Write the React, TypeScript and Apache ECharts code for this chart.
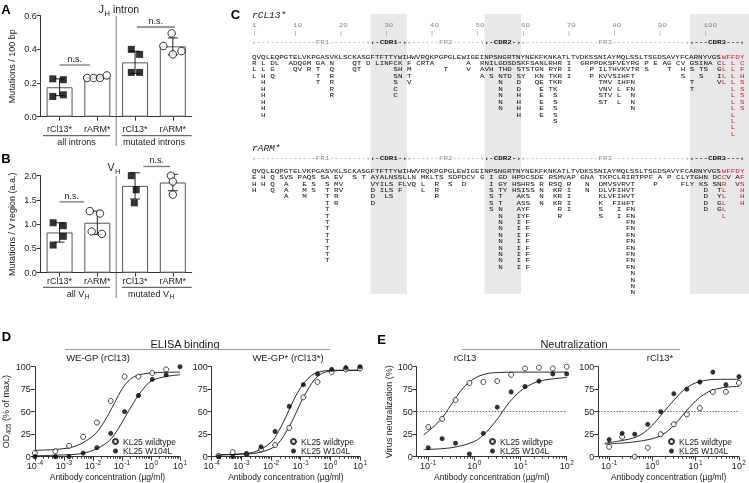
import React, { useEffect, useRef } from 'react';
import * as echarts from 'echarts';

const SANS = '"Liberation Sans", Arial, sans-serif';
const MONO = '"Liberation Mono", "DejaVu Sans Mono", monospace';
const INK = '#1a1a1a';
const SEQ = '#0d0d0d';
const AX = '#333';
const RED = '#d3202b';

// ---------------- Panel A (J_H intron) ----------------
const catLabels = ['rCl13*', 'rARM*', 'rCl13*', 'rARM*'];
const aMeans = [0.175, 0.233, 0.323, 0.418];
const aSD = [0.05, 0.008, 0.066, 0.05];
const aCl13All = [0.225, 0.22, 0.12, 0.13];
const aArmAll = [0.23, 0.23, 0.23, 0.245];
const aCl13Mut = [0.4, 0.37, 0.263, 0.263];
const aArmMut = [0.495, 0.42, 0.39, 0.37];
const jitACl13All = [-0.18, 0.1, -0.18, 0.1];
const jitAArmAll = [-0.27, -0.1, 0.07, 0.25];
const jitACl13Mut = [-0.1, 0.12, -0.1, 0.12];
const jitAArmMut = [-0.03, -0.25, 0.23, 0.0];
const aNs = [[0.0, 0.8, 0.307], [2.05, 3.05, 0.533]];

// ---------------- Panel B (V_H) ----------------
const bMeans = [0.83, 1.03, 1.79, 1.86];
const bSD = [0.2, 0.24, 0.27, 0.17];
const bCl13All = [1.03, 0.97, 0.75, 0.57];
const bArmAll = [1.27, 1.22, 0.85, 0.8];
const bCl13Mut = [2.0, 2.03, 1.71, 1.44];
const bArmMut = [2.0, 2.02, 1.88, 1.61];
const jitBCl13All = [-0.17, 0.1, 0.1, -0.17];
const jitBArmAll = [-0.2, 0.07, -0.15, 0.12];
const jitBCl13Mut = [-0.1, 0.12, 0.03, -0.02];
const jitBArmMut = [-0.05, 0.24, 0.0, 0.0];
const bNs = [[0.0, 0.65, 1.46], [2.22, 2.93, 2.19]];

// ---------------- Panel C (alignment) ----------------
const rulerMarks = [1, 10, 20, 30, 40, 50, 60, 70, 80, 90, 100];
const germline = 'QVQLEQPGTELVKPGASVKLSCKASGFTFTTYWIHWVRQKPGPGLEWIGEINPSNGRTNYNEKFKNKATLTVDKSSNIAYMQLSSLTSGDSAVYFCARNYVGSWFFDY';
const regions = [
  { name: 'FR1', from: 1, to: 26, label: 15, cdr: false },
  { name: 'CDR1', from: 27, to: 34, label: 29, cdr: true },
  { name: 'FR2', from: 35, to: 51, label: 42, cdr: false },
  { name: 'CDR2', from: 52, to: 59, label: 54, cdr: true },
  { name: 'FR3', from: 60, to: 96, label: 77, cdr: false },
  { name: 'CDR3', from: 97, to: 108, label: 101, cdr: true },
];
const germlineRed = [104, 105, 106, 107, 108];
const cl13Red = [104, 106, 108];
const armRed = [104, 108];
const cl13Rows: [number, string][][] = [
  [[1, 'R'], [3, 'L'], [5, 'DL'], [9, 'ADQGM'], [15, 'GA'], [18, 'N'], [23, 'QT'], [26, 'D'], [28, 'LINFCK'], [35, 'F'], [37, 'CRTA'], [48, 'A'], [51, 'RNILGDSDSKFSANLRHR'], [70, 'I'], [73, 'GRPPDKSFVEYRG'], [87, 'P'], [89, 'E'], [91, 'AG'], [94, 'CV'], [97, 'GSINA'], [103, 'C'], [104, 'L'], [106, 'L'], [108, 'C']],
  [[1, 'L'], [3, 'L'], [5, 'G'], [10, 'QV'], [13, 'R'], [15, 'T'], [18, 'Q'], [23, 'QT'], [32, 'SH'], [35, 'M'], [43, 'T'], [48, 'V'], [51, 'AVH'], [55, 'THD'], [59, 'STSTGN'], [66, 'RYR'], [70, 'I'], [75, 'P'], [77, 'ILTHVKVTR'], [87, 'S'], [92, 'T'], [95, 'H'], [97, 'S'], [99, 'TS'], [103, 'G'], [104, 'L'], [106, 'L'], [108, 'F']],
  [[1, 'L'], [3, 'H'], [5, 'Q'], [15, 'T'], [18, 'R'], [32, 'SN'], [35, 'T'], [51, 'A'], [53, 'S'], [55, 'NTD'], [59, 'SY'], [63, 'KN'], [66, 'TKR'], [70, 'I'], [75, 'P'], [77, 'KVVSIHFT'], [95, 'S'], [99, 'S'], [103, 'I'], [104, 'L'], [106, 'L'], [108, 'H']],
  [[3, 'H'], [15, 'T'], [18, 'R'], [32, 'S'], [35, 'V'], [55, 'N'], [59, 'D'], [63, 'QE'], [66, 'TKR'], [77, 'TMV'], [81, 'IHFN'], [97, 'T'], [103, 'V'], [104, 'L'], [106, 'L'], [108, 'S']],
  [[3, 'H'], [18, 'R'], [32, 'C'], [55, 'N'], [59, 'D'], [64, 'E'], [66, 'TK'], [77, 'VNV'], [81, 'L'], [83, 'FN'], [97, 'T'], [106, 'L'], [108, 'S']],
  [[3, 'H'], [18, 'R'], [32, 'C'], [55, 'N'], [59, 'H'], [64, 'E'], [67, 'S'], [77, 'STV'], [81, 'L'], [84, 'N'], [106, 'L'], [108, 'S']],
  [[3, 'H'], [55, 'N'], [59, 'H'], [64, 'E'], [67, 'S'], [77, 'ST'], [81, 'L'], [84, 'N'], [106, 'L'], [108, 'S']],
  [[3, 'H'], [55, 'N'], [59, 'H'], [64, 'E'], [67, 'S'], [84, 'N'], [106, 'L'], [108, 'S']],
  [[3, 'H'], [59, 'H'], [64, 'E'], [67, 'S'], [106, 'L']],
  [[67, 'S'], [106, 'L']],
  [[106, 'L']],
  [[106, 'L']],
];
const armRows: [number, string][][] = [
  [[1, 'E'], [3, 'H'], [5, 'Q'], [7, 'SVS'], [11, 'PAQS'], [16, 'SA'], [19, 'EV'], [23, 'S'], [25, 'T'], [27, 'AYALNSSLLN'], [38, 'MKLTS'], [44, 'SDPDCV'], [51, 'G'], [53, 'I'], [55, 'GD'], [58, 'HPDCSDE'], [66, 'RSMVAP'], [73, 'GNA'], [77, 'TKPCLRIRTPPF'], [90, 'A'], [92, 'P'], [94, 'CLYTGHN'], [102, 'DCCV'], [107, 'AF']],
  [[1, 'H'], [3, 'H'], [5, 'Q'], [8, 'A'], [12, 'E'], [14, 'S'], [17, 'S'], [19, 'MV'], [27, 'VYILS'], [33, 'FLVQ'], [38, 'L'], [41, 'R'], [44, 'S'], [47, 'D'], [53, 'I'], [55, 'GY'], [58, 'HSHRS'], [64, 'R'], [66, 'RSQ'], [70, 'R'], [74, 'N'], [77, 'DMVSVRVT'], [89, 'P'], [95, 'FLY'], [99, 'KS'], [102, 'SNR'], [107, 'V'], [108, 'S']],
  [[1, 'H'], [5, 'Q'], [8, 'A'], [12, 'M'], [14, 'S'], [17, 'T'], [19, 'RV'], [27, 'D'], [29, 'ILS'], [33, 'F'], [38, 'L'], [41, 'R'], [53, 'S'], [55, 'TY'], [58, 'HSISS'], [64, 'N'], [67, 'KR'], [70, 'I'], [74, 'N'], [77, 'DLVFIHVT'], [100, 'D'], [103, 'T'], [104, 'L'], [108, 'H']],
  [[8, 'A'], [12, 'M'], [17, 'T'], [19, 'R'], [27, 'D'], [30, 'LS'], [41, 'R'], [53, 'S'], [55, 'T'], [59, 'AKS'], [64, 'N'], [67, 'KR'], [70, 'I'], [77, 'KLVFIHVT'], [100, 'D'], [103, 'Y'], [104, 'L'], [108, 'H']],
  [[17, 'T'], [19, 'R'], [27, 'D'], [53, 'S'], [55, 'T'], [59, 'ASS'], [64, 'N'], [67, 'KR'], [70, 'I'], [77, 'K'], [80, 'FIHFT'], [100, 'D'], [103, 'G'], [104, 'L'], [108, 'H']],
  [[17, 'T'], [53, 'S'], [55, 'N'], [59, 'AYF'], [68, 'R'], [70, 'I'], [77, 'S'], [81, 'I'], [83, 'FN'], [100, 'D'], [103, 'G'], [104, 'L']],
  [[17, 'T'], [55, 'N'], [59, 'IYF'], [68, 'R'], [77, 'S'], [81, 'I'], [83, 'FN'], [104, 'L']],
  [[17, 'T'], [55, 'N'], [59, 'I'], [61, 'F'], [83, 'FN']],
  [[17, 'T'], [55, 'N'], [59, 'I'], [61, 'F'], [83, 'FN']],
  [[17, 'T'], [55, 'N'], [59, 'I'], [61, 'F'], [83, 'FN']],
  [[17, 'T'], [55, 'N'], [59, 'I'], [61, 'F'], [83, 'FN']],
  [[17, 'T'], [55, 'N'], [59, 'I'], [61, 'F'], [83, 'FN']],
  [[17, 'T'], [55, 'N'], [59, 'I'], [61, 'F'], [83, 'FN']],
  [[17, 'T'], [55, 'N'], [59, 'I'], [61, 'F'], [83, 'FN']],
  [[55, 'N'], [59, 'I'], [61, 'F'], [83, 'FN']],
  [[84, 'N']],
  [[84, 'N']],
  [[84, 'N']],
  [[84, 'N']],
];

// ---------------- Panel D (ELISA binding) ----------------
const elisaConcL = [10, 3.33, 1.11, 0.37, 0.123, 0.041, 0.0137, 0.0046, 0.0015, 0.00051, 0.0001];
const elisaConcR = [10, 3.33, 1.11, 0.37, 0.123, 0.041, 0.0137, 0.0046, 0.0015, 0.00051, 0.00017];
const dLeftWt = [null, 97, 93, 89, 89, 62, 38, 22, 12, 6, 4];
const dLeftMut = [100, 91, 86, 68, 50, 26, 10, 4, 0, 0, 0];
const dRightWt = [98, 97, 94, 83, 66, 32, 13, 8, 3, 5, 1];
const dRightMut = [100, 99, 97, 92, 80, 56, 28, 11, 3, 0, 0];
const dLeftWtFit = [[-4, 7], [-3, 9], [-2.5, 13], [-2, 23], [-1.75, 32], [-1.5, 45], [-1.25, 60], [-1, 75], [-0.75, 85], [-0.5, 90], [0, 93], [1, 94]];
const dLeftMutFit = [[-4, 1], [-3, 2], [-2.5, 3], [-2, 7], [-1.5, 16], [-1.25, 25], [-1, 38], [-0.75, 52], [-0.5, 65], [-0.25, 76], [0, 84], [0.5, 89], [1, 91]];
const dRightWtFit = [[-3.8, 2], [-3, 3], [-2.5, 4], [-2, 9], [-1.75, 15], [-1.5, 27], [-1.25, 42], [-1, 60], [-0.75, 75], [-0.5, 87], [-0.25, 93], [0, 95], [0.5, 96], [1, 96]];
const dRightMutFit = [[-3.8, 2], [-3, 3], [-2.5, 6], [-2, 16], [-1.75, 28], [-1.5, 44], [-1.25, 62], [-1, 77], [-0.75, 87], [-0.5, 93], [-0.25, 95], [0, 96], [1, 96]];

// ---------------- Panel E (neutralization) ----------------
const neutConc = [100, 50, 25, 12.5, 6.25, 3.13, 1.56, 0.78, 0.39, 0.2, 0.1];
const eLeftWt = [100, 98, 99, 98, 91, 84, 83, 82, 63, 42, 33];
const eLeftMut = [92, 92, 84, 78, 72, 55, 26, 3, 15, 20, 10];
const eRightWt = [82, 72, 72, 54, 47, 36, 25, 10, 0, 22, 11];
const eRightMut = [89, 80, 94, 83, 75, 70, 50, 36, 25, 26, 19];
const eLeftWtFit = [[-1.1, 24], [-0.75, 40], [-0.5, 58], [-0.25, 76], [0, 87], [0.25, 92], [0.5, 93.5], [1, 94], [2, 94]];
const eLeftMutFit = [[-1.1, 8], [-0.5, 10], [0, 17], [0.25, 27], [0.5, 42], [0.75, 60], [1, 73], [1.25, 81], [1.5, 85], [2, 88]];
const eRightWtFit = [[-1.1, 14], [-0.5, 16], [0, 20], [0.25, 25], [0.5, 35], [0.75, 49], [1, 62], [1.25, 71], [1.5, 75.5], [1.75, 77.5], [2, 78]];
const eRightMutFit = [[-1.1, 15], [-0.5, 20], [-0.25, 25], [0, 35], [0.25, 49], [0.5, 63], [0.75, 75], [1, 82], [1.25, 85], [1.5, 86], [2, 86]];

const WT = 'KL25 wildtype';
const MUT = 'KL25 W104L';

// ---------------- helpers ----------------
const jitterPts = (vals: number[], jit: number[], cat: number) => vals.map((v, i) => [cat + jit[i], v]);
const concPts = (conc: number[], vals: (number | null)[]) =>
  conc.map((c, i) => (vals[i] == null ? null : [Math.log10(c), vals[i]])).filter((p) => p !== null);
const minorTicks = (min: number, max: number) => {
  const out: number[] = [];
  for (let d = Math.floor(min); d < max; d++) {
    for (let k = 2; k <= 9; k++) {
      const v = d + Math.log10(k);
      if (v > min && v < max) out.push(v);
    }
  }
  return out;
};

const supRich = {
  n: { fontSize: 9, lineHeight: 10, verticalAlign: 'top', padding: [3, 0, 0, 0], fontFamily: SANS, color: INK },
  s: { fontSize: 6.5, lineHeight: 7, verticalAlign: 'top', padding: [0, 0, 0, 0.5], fontFamily: SANS, color: INK },
};
const subRich = (size: number) => ({
  b: { fontSize: size, lineHeight: size + 1, verticalAlign: 'top', fontFamily: SANS, color: INK, fill: INK },
  s: { fontSize: size * 0.72, lineHeight: size * 0.72 + 1, verticalAlign: 'top', padding: [size * 0.55, 0, 0, 0.5], fontFamily: SANS, color: INK, fill: INK },
});

const axisLineCfg = { show: true, onZero: false, lineStyle: { color: AX, width: 1 } };

function catXAxis(gi: number, margin: number) {
  return {
    gridIndex: gi, type: 'value', min: -0.5, max: 3.5,
    axisLine: axisLineCfg,
    axisTick: { show: true, customValues: [0, 1, 2, 3], length: 4, lineStyle: { color: AX } },
    axisLabel: { customValues: [0, 1, 2, 3], formatter: (v: number) => catLabels[Math.round(v)] || '', margin, fontSize: 9, color: INK, fontFamily: SANS },
    splitLine: { show: false },
  };
}
function logXAxis(gi: number, min: number, max: number, majors: number[]) {
  return {
    gridIndex: gi, type: 'value', min, max,
    axisLine: axisLineCfg,
    axisTick: { show: true, customValues: majors, length: 4, lineStyle: { color: AX } },
    axisLabel: { customValues: majors, formatter: (v: number) => `{n|10}{s|${Math.round(v)}}`, rich: supRich, margin: 2 },
    splitLine: { show: false },
    name: 'Antibody concentration (µg/ml)', nameLocation: 'middle', nameGap: 16,
    nameTextStyle: { fontSize: 8.5, fontFamily: SANS, color: INK },
  };
}
function minorXAxis(gi: number, min: number, max: number) {
  return {
    gridIndex: gi, type: 'value', min, max, position: 'bottom',
    axisLine: { show: false },
    axisTick: { show: true, customValues: minorTicks(min, max), length: 2, lineStyle: { color: AX } },
    axisLabel: { show: false }, splitLine: { show: false },
  };
}
function yAx(gi: number, max: number, interval: number, fmt: (v: number) => string, name?: string, nameGap?: number, rich?: any) {
  return {
    gridIndex: gi, type: 'value', min: 0, max, interval,
    axisLine: axisLineCfg,
    axisTick: { show: true, length: 4, lineStyle: { color: AX } },
    axisLabel: { formatter: fmt, fontSize: 9, color: INK, fontFamily: SANS, margin: 4 },
    splitLine: { show: false },
    name, nameLocation: 'middle', nameGap,
    nameTextStyle: { fontSize: 9, fontFamily: SANS, color: INK, rich },
  };
}

function errSeries(xi: number, yi: number, means: number[], sds: number[]) {
  return {
    type: 'custom', xAxisIndex: xi, yAxisIndex: yi, silent: true, z: 3, clip: false,
    data: means.map((m, i) => [i, m - sds[i], m + sds[i]]),
    encode: { x: 0, y: [1, 2] },
    renderItem: (_p: any, api: any) => {
      const x = api.value(0);
      const lo = api.coord([x, api.value(1)]);
      const hi = api.coord([x, api.value(2)]);
      const w = 5;
      const st = { stroke: '#222', lineWidth: 1 };
      return {
        type: 'group', children: [
          { type: 'line', shape: { x1: lo[0], y1: lo[1], x2: hi[0], y2: hi[1] }, style: st },
          { type: 'line', shape: { x1: hi[0] - w, y1: hi[1], x2: hi[0] + w, y2: hi[1] }, style: st },
          { type: 'line', shape: { x1: lo[0] - w, y1: lo[1], x2: lo[0] + w, y2: lo[1] }, style: st },
        ],
      };
    },
  };
}
function nsSeries(xi: number, yi: number, data: number[][]) {
  return {
    type: 'custom', xAxisIndex: xi, yAxisIndex: yi, silent: true, clip: false, z: 4,
    data, encode: { x: [0, 1], y: 2 },
    renderItem: (_p: any, api: any) => {
      const a = api.coord([api.value(0), api.value(2)]);
      const b = api.coord([api.value(1), api.value(2)]);
      return {
        type: 'group', children: [
          { type: 'line', shape: { x1: a[0], y1: a[1], x2: b[0], y2: a[1] }, style: { stroke: '#777', lineWidth: 1.3 } },
          { type: 'text', x: (a[0] + b[0]) / 2, y: a[1] - 1.5, style: { text: 'n.s.', fontFamily: SANS, fontSize: 9, fill: INK, align: 'center', verticalAlign: 'bottom' } },
        ],
      };
    },
  };
}
function barPanelSeries(xi: number, means: number[], sds: number[], sq: number[][], circ: number[][], ns: number[][]) {
  return [
    { type: 'bar', xAxisIndex: xi, yAxisIndex: xi, data: means.map((v, i) => [i, v]), barWidth: 26, silent: true, z: 2,
      itemStyle: { color: '#fff', borderColor: '#555', borderWidth: 1 } },
    errSeries(xi, xi, means, sds),
    { type: 'scatter', xAxisIndex: xi, yAxisIndex: xi, data: sq, symbol: 'rect', symbolSize: 7, silent: true, z: 5, itemStyle: { color: '#000' } },
    { type: 'scatter', xAxisIndex: xi, yAxisIndex: xi, data: circ, symbol: 'circle', symbolSize: 7.5, silent: true, z: 5,
      itemStyle: { color: '#fff', borderColor: '#000', borderWidth: 1 } },
    nsSeries(xi, xi, ns),
  ];
}
function curvePanelSeries(xi: number, wt: any[], mut: any[], wtFit: number[][], mutFit: number[][], dotted50: boolean) {
  const line = (data: number[][], name: string, extra: any = {}) => ({
    type: 'line', name, xAxisIndex: xi, yAxisIndex: xi, data, smooth: 0.35, symbol: 'none', silent: true, z: 3,
    lineStyle: { color: '#111', width: 0.9 }, ...extra,
  });
  return [
    line(wtFit, 'fit wt', dotted50 ? {
      markLine: { silent: true, symbol: ['none', 'none'], label: { show: false },
        lineStyle: { type: [1.5, 1.5], color: '#666', width: 1 }, data: [{ yAxis: 50 }] },
    } : {}),
    line(mutFit, 'fit mut'),
    { type: 'scatter', name: WT, xAxisIndex: xi, yAxisIndex: xi, data: wt, symbol: 'circle', symbolSize: 5, silent: true, z: 5,
      itemStyle: { color: '#fff', borderColor: '#000', borderWidth: 0.9 } },
    { type: 'scatter', name: MUT, xAxisIndex: xi, yAxisIndex: xi, data: mut, symbol: 'circle', symbolSize: 5, silent: true, z: 5,
      itemStyle: { color: '#000' } },
  ];
}

// ---------------- graphic (texts, lines, alignment) ----------------
const T = (x: number, y: number, text: string, extra: any = {}) => ({
  type: 'text', x, y, silent: true,
  style: { text, fontFamily: SANS, fontSize: 9, fill: INK, align: 'center', verticalAlign: 'middle', ...extra },
});
const L = (x1: number, y1: number, x2: number, y2: number, stroke = '#555', lineWidth = 1) => ({
  type: 'line', silent: true, shape: { x1, y1, x2, y2 }, style: { stroke, lineWidth },
});

function panelC() {
  const els: any[] = [];
  const X0 = 252, CW = 4.56, FS = 7.6, SY = 0.72;
  const colX = (c: number) => X0 + (c - 1) * CW;
  const bandTop = 14, bandBottom = 294;
  regions.filter((r) => r.cdr).forEach((r) => {
    const x = colX(r.from);
    const w = r.to === germline.length ? 749 - x : (r.to - r.from + 1) * CW;
    els.push({ type: 'rect', silent: true, z: -10, shape: { x, y: bandTop, width: w, height: bandBottom - bandTop }, style: { fill: '#e8e8e8' } });
  });
  const txt = (col: number, y: number, s: string, fill = SEQ, extra: any = {}) =>
    els.push({ type: 'text', silent: true, x: colX(col), y, scaleY: SY,
      style: { text: s, fontFamily: MONO, fontSize: FS, lineHeight: 6, fill, align: 'left', verticalAlign: 'middle', ...extra } });
  const seg = (col: number, y: number, s: string, red: number[]) => {
    const isRed = (k: number) => red.includes(col + k);
    let start = 0;
    for (let i = 1; i <= s.length; i++) {
      if (i === s.length || isRed(i) !== isRed(start)) {
        txt(col + start, y, s.slice(start, i), isRed(start) ? RED : SEQ);
        start = i;
      }
    }
  };
  const ruler = (y: number) => {
    regions.forEach((r) => {
      const chars: string[] = [];
      for (let c = r.from; c <= r.to; c++) chars.push(c === r.from ? '‹' : c === r.to ? '›' : '-');
      for (let k = 0; k < r.name.length; k++) chars[r.label - r.from + k] = r.name[k];
      txt(r.from, y, chars.join(''), r.cdr ? '#111' : '#8a8a8a', r.cdr ? { fontWeight: 'bold' } : {});
    });
  };
  const block = (nameY: number, name: string, rulerY: number, seqY: number, rowY0: number, step: number, rows: [number, string][][], red: number[]) => {
    els.push({ type: 'text', silent: true, x: X0, y: nameY,
      style: { text: name, fontFamily: MONO, fontSize: 9.5, fontStyle: 'italic', fill: INK, align: 'left', verticalAlign: 'middle' } });
    ruler(rulerY);
    seg(1, seqY, germline, germlineRed);
    rows.forEach((row, ri) => row.forEach(([c, s]) => seg(c, rowY0 + ri * step, s, red)));
  };
  rulerMarks.forEach((m) => {
    txt(m, 25, String(m), '#8a8a8a');
    txt(m, 33, '|', '#9a9a9a');
  });
  block(15.5, 'rCL13*', 42, 57, 63.3, 6.45, cl13Rows, cl13Red);
  block(148.5, 'rARM*', 158, 171, 177.5, 6.4, armRows, armRed);
  els.push(T(235.5, 14, 'C', { fontSize: 13, fontWeight: 'bold', fill: '#000' }));
  return els;
}

function decorations() {
  const sub10 = subRich(10.5);
  const sub9 = subRich(9);
  return [
    T(6, 9, 'A', { fontSize: 13, fontWeight: 'bold', fill: '#000' }),
    T(6, 158, 'B', { fontSize: 13, fontWeight: 'bold', fill: '#000' }),
    T(6.5, 336, 'D', { fontSize: 13, fontWeight: 'bold', fill: '#000' }),
    T(381.5, 339, 'E', { fontSize: 13, fontWeight: 'bold', fill: '#000' }),
    T(119, 9, '{b|J}{s|H}{b| intron}', { rich: sub10 }),
    L(116.2, 15.7, 116.2, 146, '#777'),
    L(43, 135.7, 110, 135.7, '#444'),
    L(122, 135.7, 191.7, 135.7, '#444'),
    T(76.5, 141.5, 'all introns'),
    T(154, 141.5, 'mutated introns'),
    T(114, 167, '{b|V}{s|H}', { rich: sub10 }),
    L(116.2, 175.7, 116.2, 298, '#777'),
    L(43, 287.3, 110, 287.3, '#444'),
    L(122, 287.3, 191.7, 287.3, '#444'),
    T(78, 294, '{b|all V}{s|H}', { rich: sub9 }),
    T(151, 294, '{b|mutated V}{s|H}', { rich: sub9 }),
    T(185, 344, 'ELISA binding', { fontSize: 11 }),
    L(65, 349.5, 330, 349.5, '#9a9a9a'),
    T(98, 357.5, 'WE-GP (rCl13)', { fontSize: 9.5 }),
    T(288, 357.5, 'WE-GP* (rCl13*)', { fontSize: 9.5 }),
    T(574, 344, 'Neutralization', { fontSize: 11 }),
    L(462, 349.5, 680, 349.5, '#9a9a9a'),
    T(465, 357.5, 'rCl13', { fontSize: 9.5 }),
    T(660, 357.5, 'rCl13*', { fontSize: 9.5 }),
  ];
}

function buildOption() {
  const E_MIN = -1.25, E_MAX = 2;
  const legendBase = {
    orient: 'vertical', itemGap: 0.5, itemWidth: 5, itemHeight: 5, padding: 0, selectedMode: false,
    data: [WT, MUT], textStyle: { fontSize: 8.5, fontFamily: SANS, color: INK, lineHeight: 8 },
  };
  return {
    animation: false,
    backgroundColor: '#fff',
    grid: [
      { left: 40.7, top: 15.7, width: 151, height: 101 },
      { left: 40.7, top: 175.7, width: 151, height: 97 },
      { left: 34, top: 366.7, width: 146, height: 90 },
      { left: 211.7, top: 366.7, width: 148.3, height: 90 },
      { left: 416.7, top: 366.7, width: 150, height: 90 },
      { left: 598.3, top: 366.7, width: 150, height: 90 },
    ],
    xAxis: [
      catXAxis(0, 8),
      catXAxis(1, 4),
      logXAxis(2, -4, 1, [-4, -3, -2, -1, 0, 1]),
      logXAxis(3, -4, 1, [-4, -3, -2, -1, 0, 1]),
      logXAxis(4, E_MIN, E_MAX, [-1, 0, 1, 2]),
      logXAxis(5, E_MIN, E_MAX, [-1, 0, 1, 2]),
      minorXAxis(2, -4, 1),
      minorXAxis(3, -4, 1),
      minorXAxis(4, E_MIN, E_MAX),
      minorXAxis(5, E_MIN, E_MAX),
    ],
    yAxis: [
      yAx(0, 0.6, 0.2, (v) => v.toFixed(1), 'Mutations / 100 bp', 24),
      yAx(1, 2.0, 0.5, (v) => v.toFixed(1), 'Mutations / V region (a.a.)', 24),
      yAx(2, 100, 25, (v) => String(v), '{b|OD}{s|405}{b| (% of max.)}', 19, subRich(9)),
      yAx(3, 100, 25, (v) => String(v)),
      yAx(4, 100, 25, (v) => String(v), 'Virus neutralization (%)', 19),
      yAx(5, 100, 25, (v) => String(v)),
    ],
    legend: [
      { ...legendBase, left: 112, top: 437 },
      { ...legendBase, left: 290, top: 437 },
      { ...legendBase, left: 489, top: 437 },
      { ...legendBase, left: 668, top: 437 },
    ],
    series: [
      ...barPanelSeries(0, aMeans, aSD,
        [...jitterPts(aCl13All, jitACl13All, 0), ...jitterPts(aCl13Mut, jitACl13Mut, 2)],
        [...jitterPts(aArmAll, jitAArmAll, 1), ...jitterPts(aArmMut, jitAArmMut, 3)], aNs),
      ...barPanelSeries(1, bMeans, bSD,
        [...jitterPts(bCl13All, jitBCl13All, 0), ...jitterPts(bCl13Mut, jitBCl13Mut, 2)],
        [...jitterPts(bArmAll, jitBArmAll, 1), ...jitterPts(bArmMut, jitBArmMut, 3)], bNs),
      ...curvePanelSeries(2, concPts(elisaConcL, dLeftWt), concPts(elisaConcL, dLeftMut), dLeftWtFit, dLeftMutFit, false),
      ...curvePanelSeries(3, concPts(elisaConcR, dRightWt), concPts(elisaConcR, dRightMut), dRightWtFit, dRightMutFit, false),
      ...curvePanelSeries(4, concPts(neutConc, eLeftWt), concPts(neutConc, eLeftMut), eLeftWtFit, eLeftMutFit, true),
      ...curvePanelSeries(5, concPts(neutConc, eRightWt), concPts(neutConc, eRightMut), eRightWtFit, eRightMutFit, true),
    ],
    graphic: { elements: [...panelC(), ...decorations()] },
  };
}

export default function App() {
  const ref = useRef<HTMLDivElement>(null);
  useEffect(() => {
    document.body.style.margin = '0';
    const chart = echarts.init(ref.current as HTMLDivElement, null, { renderer: 'svg' });
    chart.setOption(buildOption() as any);
    return () => chart.dispose();
  }, []);
  return <div ref={ref} style={{ width: 749, height: 483, willChange: 'transform', transform: 'translateZ(0)' }} />;
}
